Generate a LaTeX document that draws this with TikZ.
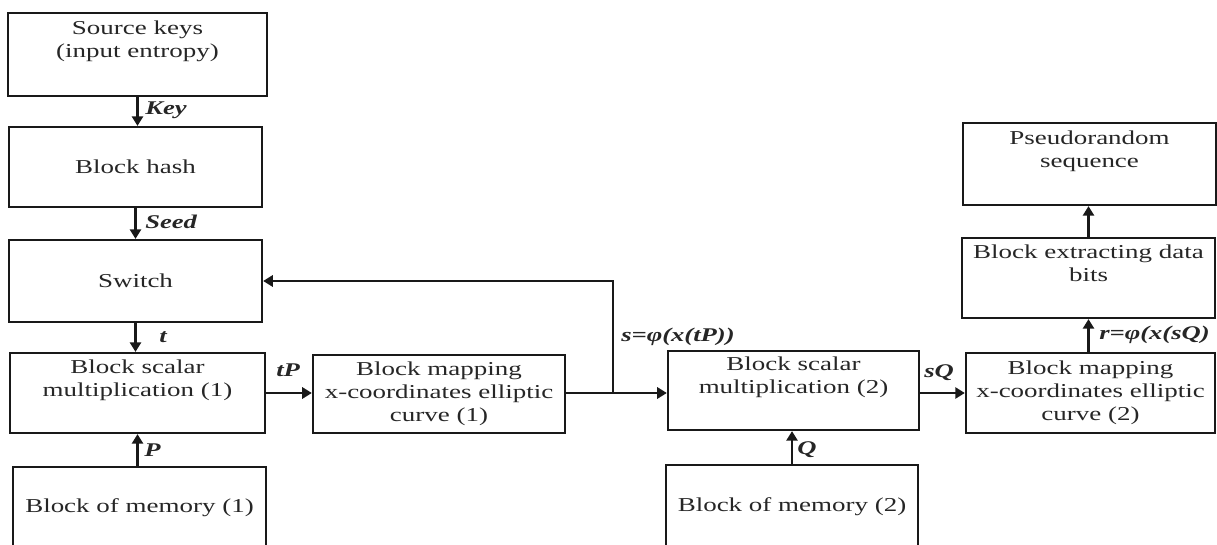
\documentclass[tikz,border=0pt]{standalone}
\usepackage{fontspec}
\setmainfont{Liberation Serif}[FakeStretch=1.37]
\usetikzlibrary{arrows.meta}
\tikzset{
  blk/.style={draw=black!90, line width=1.6pt, inner sep=0pt, align=center,
    text=black!85, font=\fontsize{14}{16.4}\selectfont},
  flow/.style={line width=1.6pt, draw=black!90,
    -{Triangle[length=0.24cm,width=0.28cm]}},
  lbl/.style={anchor=west, inner sep=0pt, text=black!85,
    font=\fontsize{13.8}{15}\selectfont\bfseries\itshape},
}
\begin{document}
\begin{tikzpicture}[x=0.025cm,y=-0.025cm]
\useasboundingbox (0,0) rectangle (1217,545);

% left column
\node[blk, minimum width=6.475cm, minimum height=2.075cm] (src) at (137.5,54.5)
  {Source keys\\(input entropy)\\\strut};
\node[blk, minimum width=6.325cm, minimum height=2.0cm] (hash) at (135.5,167)
  {Block hash};
\node[blk, minimum width=6.325cm, minimum height=2.05cm] (sw) at (135.5,281)
  {Switch};
\node[blk, minimum width=6.375cm, minimum height=2.0cm] (sm1) at (137.5,393)
  {Block scalar\\multiplication (1)\\\strut};
\node[blk, minimum width=6.325cm, minimum height=2.025cm] (mem1) at (139.5,507.5)
  {Block of memory (1)};

% middle
\node[blk, minimum width=6.3cm, minimum height=1.95cm] (map1) at (439,394)
  {Block mapping\\x-coordinates elliptic\\curve (1)};
\node[blk, minimum width=6.275cm, minimum height=1.975cm] (sm2) at (793.5,390.5)
  {Block scalar\\multiplication (2)\\\strut};
\node[blk, minimum width=6.3cm, minimum height=2.075cm] (mem2) at (792,506.5)
  {Block of memory (2)};

% right column
\node[blk, minimum width=6.225cm, minimum height=2.0cm] (map2) at (1090.5,393)
  {Block mapping\\x-coordinates elliptic\\curve (2)};
\node[blk, minimum width=6.325cm, minimum height=2.0cm] (ext) at (1088.5,278)
  {Block extracting data\\bits\\\strut};
\node[blk, minimum width=6.325cm, minimum height=2.05cm] (prs) at (1089.5,164)
  {Pseudorandom\\sequence\\\strut};

\coordinate (j) at (613,393);

% connectors
\draw[flow] (src.south) -- (src.south |- hash.north);
\draw[flow] (hash.south) -- (hash.south |- sw.north);
\draw[flow] (sw.south) -- (sw.south |- sm1.north);
\draw[flow] (sm1.south |- mem1.north) -- (sm1.south);
\draw[flow] (sm1.east) -- (sm1.east -| map1.west);
\draw[line width=1.6pt, draw=black!90] (map1.east |- j) -- (j);
\draw[flow] (j) -- (j -| sm2.west);
\draw[flow] (j) |- (sw.east);
\draw[flow] (mem2.north) -- (mem2.north |- sm2.south);
\draw[flow] (sm2.east |- map2.west) -- (map2.west);
\draw[flow] (ext.south |- map2.north) -- (ext.south);
\draw[flow] (ext.north) -- (ext.north |- prs.south);

% signal labels
\node[lbl] (lkey) at (145,110) {Key};
\node[lbl] (lseed) at (145,222) {Seed};
\node[lbl] (lt) at (159,337) {t};
\node[lbl] (ltp) at (276,370) {tP};
\node[lbl] (lp) at (144,450) {P};
\node[lbl] (ls) at (621,337) {s=φ(x(tP))};
\node[lbl] (lq) at (797,450) {Q};
\node[lbl] (lsq) at (924,373) {sQ};
\node[lbl] (lr) at (1099,335) {r=φ(x(sQ)};
\end{tikzpicture}
\end{document}
